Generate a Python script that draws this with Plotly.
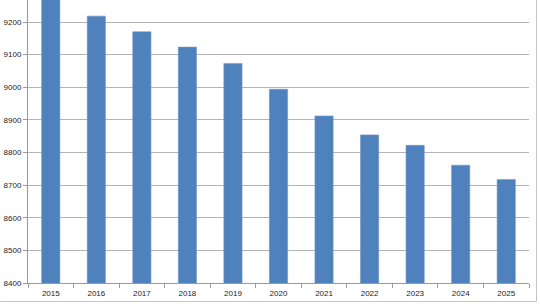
import plotly.graph_objects as go

years = ["2015", "2016", "2017", "2018", "2019", "2020", "2021", "2022", "2023", "2024", "2025"]
values = [9290, 9218, 9170, 9123, 9073, 8994, 8912, 8854, 8822, 8761, 8717]
y_ticks = [8400, 8500, 8600, 8700, 8800, 8900, 9000, 9100, 9200]

W, H = 540, 304
ml, mr, mt, mb = 27.5, 11, 0, 21
pw = W - ml - mr
ph = H - mt - mb

def px_x(p):
    return (p - ml) / pw

def px_y(p):
    return 1 - (p - mt) / ph

fig = go.Figure(go.Bar(
    x=years, y=values,
    marker=dict(color="#4F81BD", line=dict(color="#6f98c8", width=0.6)),
    width=0.4,
))

fig.update_layout(
    width=W, height=H,
    margin=dict(l=ml, r=mr, t=mt, b=mb, pad=0),
    paper_bgcolor="white", plot_bgcolor="white",
    showlegend=False,
    font=dict(family="Liberation Sans, Arial, sans-serif", size=8, color="#222222"),
    xaxis=dict(
        type="category",
        showgrid=False,
        showline=True, linecolor="#9a9a9a", linewidth=1,
        ticks="outside", ticklen=4, tickcolor="#9a9a9a",
        tickson="boundaries",
        tickfont=dict(size=8),
        ticklabelstandoff=2,
        fixedrange=True,
    ),
    yaxis=dict(
        range=[8400, 8400 + 283 / 0.32625],
        tickvals=y_ticks,
        showgrid=True, gridcolor="#b4b4b4", gridwidth=1,
        showline=True, linecolor="#9a9a9a", linewidth=1,
        ticks="outside", ticklen=4, tickcolor="#9a9a9a",
        tickfont=dict(size=8),
        zeroline=False,
        fixedrange=True,
    ),
    shapes=[
        dict(type="line", xref="paper", yref="paper",
             x0=px_x(536.5), x1=px_x(536.5), y0=px_y(0), y1=px_y(301.5),
             line=dict(color="#c4c4c4", width=1)),
        dict(type="line", xref="paper", yref="paper",
             x0=px_x(0), x1=px_x(536.5), y0=px_y(301.5), y1=px_y(301.5),
             line=dict(color="#c4c4c4", width=1)),
    ],
)

fig.write_html("out.html")
